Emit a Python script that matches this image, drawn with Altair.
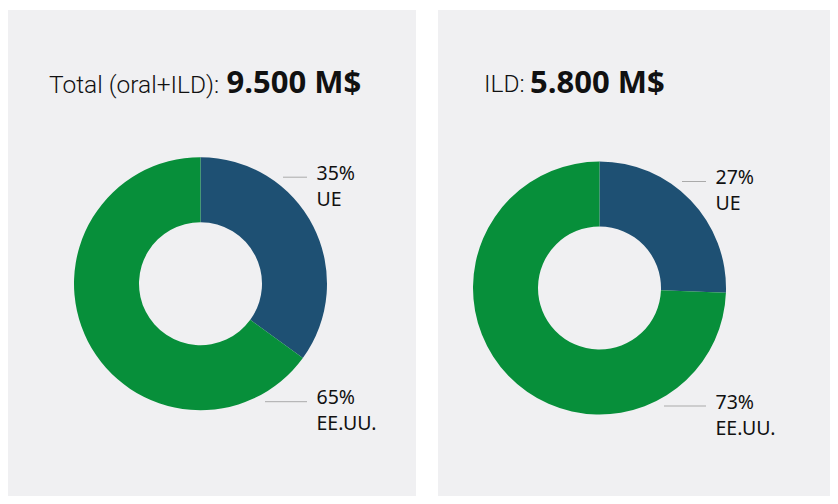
import altair as alt
import pandas as pd

# ---- data ----
panel_titles = ["Total (oral+ILD):", "ILD:"]
panel_totals = ["9.500 M$", "5.800 M$"]
categories = ["UE", "EE.UU."]
# slice sizes as drawn in the picture (percent)
shares = [[35, 65], [25.6, 74.4]]
# percentages as printed on the labels
share_labels = [["35%", "65%"], ["27%", "73%"]]

blue = "#1e5073"
green = "#078f3a"
panel_bg = "#f0f0f2"

# layout (panel pixel coords)
layouts = [
    dict(w=408, cx=192.5, cy=273.7, tx=41, bx=218.5, ty=82.5),
    dict(w=392, cx=161.5, cy=278, tx=46, bx=92, ty=82),
]
H = 486
R_OUT, R_IN = 126.5, 61.5


def panel(i):
    L = layouts[i]
    df = pd.DataFrame({
        "cat": categories,
        "value": shares[i],
        "lbl_pct": share_labels[i],
        "ord": [0, 1],
    })
    base = alt.Chart(df)
    arc = base.mark_arc(outerRadius=R_OUT, innerRadius=R_IN, stroke=None).encode(
        theta=alt.Theta("value:Q", stack=True),
        color=alt.Color("cat:N", scale=alt.Scale(domain=categories, range=[blue, green]), legend=None),
        order=alt.Order("ord:Q"),
        x=alt.value(L["cx"]),
        y=alt.value(L["cy"]),
    )
    one = alt.Data(values=[{"t": panel_titles[i], "b": panel_totals[i]}])
    t_reg = alt.Chart(one).mark_text(
        align="left", baseline="alphabetic", font="Roboto", fontWeight=300, fontSize=24.5, color="#111111"
    ).encode(text="t:N", x=alt.value(L["tx"]), y=alt.value(L["ty"]))
    t_bold = alt.Chart(one).mark_text(
        align="left", baseline="alphabetic", font="Open Sans", fontWeight=700, fontSize=31, color="#111111"
    ).encode(text="b:N", x=alt.value(L["bx"]), y=alt.value(L["ty"] + 0.5))

    cx, cy = L["cx"], L["cy"]
    layers = [arc, t_reg, t_bold]
    # label positions: top for first category, bottom for second
    specs = [
        dict(cat=categories[0], x1=cx + 82.5, y=cy - 106.5, ty=cy - 104),
        dict(cat=categories[1], x1=cx + 64.5, y=cy + 118, ty=cy + 120.5),
    ]
    for s in specs:
        sub = base.transform_filter(alt.datum.cat == s["cat"])
        rule = sub.mark_rule(color="#aaaaaa", strokeWidth=1).encode(
            x=alt.value(s["x1"]), x2=alt.value(cx + 106.5), y=alt.value(s["y"])
        )
        lab = sub.transform_calculate(
            lbl="[datum.lbl_pct, datum.cat]"
        ).mark_text(
            align="left", baseline="alphabetic", font="Noto Sans", fontSize=19.5,
            lineHeight=26, color="#111111"
        ).encode(text="lbl:N", x=alt.value(cx + 116), y=alt.value(s["ty"]))
        layers += [rule, lab]
    return alt.layer(*layers).properties(width=L["w"], height=H)


chart = alt.hconcat(panel(0), panel(1), spacing=22).configure_view(
    fill=panel_bg, strokeWidth=0
).properties(
    padding={"left": 0, "top": 2, "right": 0, "bottom": 0},
    background="white",
)

chart.save("out.html", embed_options={"renderer": "svg", "actions": False})
